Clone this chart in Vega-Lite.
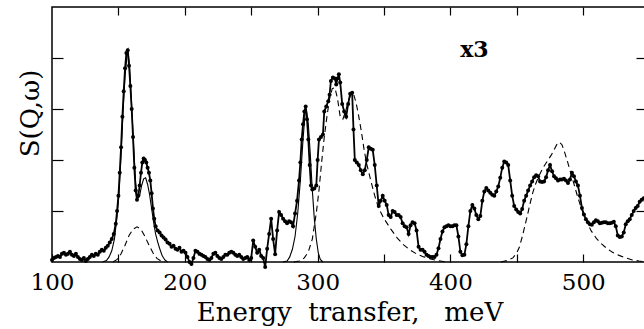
{
 "$schema": "https://vega.github.io/schema/vega-lite/v6.json",
 "autosize": {"type": "none"},
 "padding": {"left": 52, "top": 7, "right": 0, "bottom": 67},
 "width": 595,
 "height": 255,
 "config": {
  "view": {"stroke": "black", "strokeWidth": 1.5},
  "axis": {"domain": false, "tickColor": "black", "tickWidth": 1.2, "labelColor": "black", "titleColor": "black", "labelFont": "DejaVu Serif", "titleFont": "DejaVu Serif", "grid": false, "labelFlush": false}
 },
 "datasets": {
  "obs": [
   {"E":100,"S":0.04},{"E":101.5,"S":0.08},{"E":103,"S":0.1},{"E":104.5,"S":0.12},{"E":106,"S":0.1},{"E":107.5,"S":0.16},{"E":109,"S":0.18},{"E":110.5,"S":0.14},{"E":112,"S":0.16},{"E":113.5,"S":0.2},{"E":115,"S":0.14},{"E":116.5,"S":0.12},{"E":118,"S":0.16},{"E":119.5,"S":0.1},{"E":121,"S":0.06},{"E":122.5,"S":0.04},{"E":124,"S":0.08},{"E":125.5,"S":0.02},{"E":127,"S":0.06},{"E":128.5,"S":0.1},{"E":130,"S":0.14},{"E":131.5,"S":0.12},{"E":133,"S":0.16},{"E":134.5,"S":0.14},{"E":136,"S":0.2},{"E":137.5,"S":0.24},{"E":139,"S":0.22},{"E":140.5,"S":0.28},{"E":142,"S":0.32},{"E":143.5,"S":0.38},{"E":145,"S":0.45},{"E":146.5,"S":0.55},{"E":148,"S":0.75},{"E":149,"S":1.0},{"E":150,"S":1.3},{"E":151,"S":1.75},{"E":152,"S":2.25},{"E":153,"S":2.85},{"E":154,"S":3.35},{"E":155,"S":3.8},{"E":156,"S":4.1},{"E":157,"S":4.15},{"E":158,"S":3.85},{"E":159,"S":3.45},{"E":160,"S":3.0},{"E":161,"S":2.45},{"E":162,"S":1.85},{"E":163,"S":1.4},{"E":164,"S":1.22},{"E":165,"S":1.3},{"E":166,"S":1.5},{"E":167,"S":1.75},{"E":168,"S":1.95},{"E":169,"S":2.03},{"E":170,"S":2.0},{"E":171,"S":1.95},{"E":172,"S":1.85},{"E":173,"S":1.75},{"E":174,"S":1.6},{"E":175,"S":1.35},{"E":176,"S":1.05},{"E":177,"S":0.85},{"E":178,"S":0.7},{"E":179.5,"S":0.62},{"E":181,"S":0.58},{"E":182.5,"S":0.52},{"E":184,"S":0.48},{"E":185.5,"S":0.44},{"E":187,"S":0.38},{"E":188.5,"S":0.36},{"E":190,"S":0.3},{"E":191.5,"S":0.32},{"E":193,"S":0.26},{"E":194.5,"S":0.24},{"E":196,"S":0.28},{"E":197.5,"S":0.2},{"E":199,"S":0.22},{"E":200.5,"S":0.18},{"E":202,"S":0.1},{"E":203.5,"S":0.0},{"E":205,"S":-0.04},{"E":206.5,"S":0.08},{"E":208,"S":0.22},{"E":209.5,"S":0.2},{"E":211,"S":0.16},{"E":212.5,"S":0.14},{"E":214,"S":0.12},{"E":215.5,"S":0.1},{"E":217,"S":0.06},{"E":218.5,"S":0.04},{"E":220,"S":0.08},{"E":221.5,"S":0.16},{"E":223,"S":0.18},{"E":224.5,"S":0.12},{"E":226,"S":0.08},{"E":227.5,"S":0.06},{"E":229,"S":0.1},{"E":230.5,"S":0.14},{"E":232,"S":0.14},{"E":233.5,"S":0.18},{"E":235,"S":0.2},{"E":236.5,"S":0.18},{"E":238,"S":0.14},{"E":239.5,"S":0.12},{"E":241,"S":0.14},{"E":242.5,"S":0.1},{"E":244,"S":0.06},{"E":245.5,"S":0.08},{"E":247,"S":0.1},{"E":248.5,"S":0.04},{"E":250,"S":0.08},{"E":251.5,"S":0.42},{"E":253,"S":0.3},{"E":254.5,"S":0.18},{"E":256,"S":0.24},{"E":257.5,"S":0.12},{"E":259,"S":0.08},{"E":260.5,"S":-0.1},{"E":262,"S":0.26},{"E":263.5,"S":0.55},{"E":265,"S":0.85},{"E":266.5,"S":0.45},{"E":268,"S":0.15},{"E":269.5,"S":0.62},{"E":271,"S":0.98},{"E":272.5,"S":0.92},{"E":274,"S":0.85},{"E":275.5,"S":0.8},{"E":277,"S":0.76},{"E":278.5,"S":0.8},{"E":280,"S":0.78},{"E":281.5,"S":0.7},{"E":283,"S":0.95},{"E":284.5,"S":1.2},{"E":286,"S":1.6},{"E":287,"S":1.95},{"E":288,"S":2.4},{"E":289,"S":2.7},{"E":290,"S":2.95},{"E":291,"S":3.05},{"E":292,"S":2.8},{"E":293,"S":2.4},{"E":294,"S":1.9},{"E":295,"S":1.5},{"E":296,"S":1.42},{"E":297.5,"S":1.44},{"E":299,"S":1.5},{"E":300,"S":2.0},{"E":301,"S":2.4},{"E":302.5,"S":2.45},{"E":304,"S":2.5},{"E":305,"S":2.95},{"E":306.5,"S":3.05},{"E":308,"S":3.15},{"E":309,"S":3.28},{"E":310,"S":3.55},{"E":311.5,"S":3.62},{"E":313,"S":3.6},{"E":314,"S":3.48},{"E":315,"S":3.6},{"E":316,"S":3.68},{"E":317,"S":3.52},{"E":318.5,"S":3.1},{"E":320,"S":2.95},{"E":321.5,"S":2.85},{"E":323,"S":3.1},{"E":324.5,"S":3.3},{"E":326,"S":3.32},{"E":327,"S":2.6},{"E":328,"S":2.0},{"E":329.5,"S":1.95},{"E":331,"S":1.9},{"E":332.5,"S":1.8},{"E":334,"S":1.72},{"E":335.5,"S":1.8},{"E":337,"S":2.0},{"E":338.5,"S":2.25},{"E":340,"S":2.22},{"E":341.5,"S":2.2},{"E":343,"S":1.9},{"E":344.5,"S":1.5},{"E":346,"S":1.1},{"E":347.5,"S":1.2},{"E":349,"S":1.3},{"E":350.5,"S":1.2},{"E":352,"S":1.12},{"E":353.5,"S":0.92},{"E":355,"S":0.88},{"E":356.5,"S":1.0},{"E":358,"S":0.98},{"E":359.5,"S":0.92},{"E":361,"S":0.92},{"E":362.5,"S":0.88},{"E":364,"S":0.76},{"E":365.5,"S":0.7},{"E":367,"S":0.68},{"E":368.5,"S":0.55},{"E":370,"S":0.72},{"E":371.5,"S":0.78},{"E":373,"S":0.76},{"E":374.5,"S":0.62},{"E":376,"S":0.3},{"E":377.5,"S":0.24},{"E":379,"S":0.24},{"E":380.5,"S":0.2},{"E":382,"S":0.14},{"E":383.5,"S":0.12},{"E":385,"S":0.1},{"E":386.5,"S":0.1},{"E":388,"S":0.1},{"E":389.5,"S":0.14},{"E":391,"S":0.27},{"E":392.5,"S":0.45},{"E":394,"S":0.6},{"E":395.5,"S":0.68},{"E":397,"S":0.7},{"E":398.5,"S":0.72},{"E":400,"S":0.7},{"E":401.5,"S":0.7},{"E":403,"S":0.72},{"E":404.5,"S":0.72},{"E":406,"S":0.5},{"E":407.5,"S":0.2},{"E":409,"S":0.13},{"E":410.5,"S":0.14},{"E":412,"S":0.35},{"E":413.5,"S":0.7},{"E":415,"S":1.0},{"E":416.5,"S":1.12},{"E":418,"S":1.05},{"E":419.5,"S":0.92},{"E":421,"S":0.84},{"E":422.5,"S":0.9},{"E":424,"S":1.2},{"E":425.5,"S":1.38},{"E":427,"S":1.45},{"E":428.5,"S":1.4},{"E":430,"S":1.36},{"E":431.5,"S":1.32},{"E":433,"S":1.3},{"E":434.5,"S":1.38},{"E":436,"S":1.48},{"E":437.5,"S":1.65},{"E":439,"S":1.85},{"E":440.5,"S":1.97},{"E":442,"S":1.95},{"E":443.5,"S":1.9},{"E":445,"S":1.6},{"E":446.5,"S":1.3},{"E":448,"S":1.1},{"E":449.5,"S":1.03},{"E":451,"S":0.98},{"E":452.5,"S":0.95},{"E":454,"S":1.04},{"E":455.5,"S":1.2},{"E":457,"S":1.3},{"E":458.5,"S":1.4},{"E":460,"S":1.5},{"E":461.5,"S":1.58},{"E":463,"S":1.66},{"E":464.5,"S":1.7},{"E":466,"S":1.68},{"E":467.5,"S":1.58},{"E":469,"S":1.57},{"E":470.5,"S":1.58},{"E":472,"S":1.66},{"E":473.5,"S":1.8},{"E":475,"S":1.9},{"E":476.5,"S":1.78},{"E":478,"S":1.68},{"E":479.5,"S":1.64},{"E":481,"S":1.6},{"E":482.5,"S":1.62},{"E":484,"S":1.62},{"E":485.5,"S":1.63},{"E":487,"S":1.6},{"E":488.5,"S":1.55},{"E":490,"S":1.62},{"E":491.5,"S":1.75},{"E":493,"S":1.68},{"E":494.5,"S":1.58},{"E":496,"S":1.5},{"E":497.5,"S":1.3},{"E":499,"S":1.06},{"E":500.5,"S":0.93},{"E":502,"S":0.84},{"E":503.5,"S":0.78},{"E":505,"S":0.74},{"E":506.5,"S":0.73},{"E":508,"S":0.78},{"E":509.5,"S":0.82},{"E":511,"S":0.8},{"E":512.5,"S":0.76},{"E":514,"S":0.77},{"E":515.5,"S":0.78},{"E":517,"S":0.78},{"E":518.5,"S":0.76},{"E":520,"S":0.76},{"E":521.5,"S":0.77},{"E":523,"S":0.79},{"E":524.5,"S":0.7},{"E":526,"S":0.52},{"E":527.5,"S":0.49},{"E":529,"S":0.5},{"E":530.5,"S":0.58},{"E":532,"S":0.74},{"E":533.5,"S":0.8},{"E":535,"S":0.84},{"E":536.5,"S":0.92},{"E":538,"S":1.0},{"E":539.5,"S":1.06},{"E":541,"S":1.1},{"E":542.5,"S":1.18},{"E":544,"S":1.22},{"E":545.5,"S":1.25},{"E":547,"S":1.2}
  ],
  "fit": [
   {"seg":"a","E":138,"S":0},{"seg":"a","E":141,"S":0.03},{"seg":"a","E":143,"S":0.1},{"seg":"a","E":145,"S":0.22},{"seg":"a","E":147,"S":0.45},{"seg":"a","E":149,"S":0.9},{"seg":"a","E":150.5,"S":1.35},{"seg":"a","E":152,"S":2.1},{"seg":"a","E":153.5,"S":2.95},{"seg":"a","E":155,"S":3.65},{"seg":"a","E":156.5,"S":4.05},{"seg":"a","E":157.5,"S":4.08},{"seg":"a","E":158.5,"S":3.8},{"seg":"a","E":160,"S":3.05},{"seg":"a","E":161.5,"S":2.25},{"seg":"a","E":163,"S":1.55},{"seg":"a","E":164.5,"S":1.25},{"seg":"a","E":166,"S":1.3},{"seg":"a","E":167.5,"S":1.5},{"seg":"a","E":169,"S":1.63},{"seg":"a","E":170.5,"S":1.65},{"seg":"a","E":172,"S":1.52},{"seg":"a","E":173.5,"S":1.32},{"seg":"a","E":175,"S":1.05},{"seg":"a","E":176.5,"S":0.78},{"seg":"a","E":178,"S":0.55},{"seg":"a","E":179.5,"S":0.4},{"seg":"a","E":181,"S":0.27},{"seg":"a","E":183,"S":0.12},{"seg":"a","E":185,"S":0.04},{"seg":"a","E":187,"S":0},
   {"seg":"b","E":274,"S":0},{"seg":"b","E":277,"S":0.02},{"seg":"b","E":279,"S":0.1},{"seg":"b","E":281,"S":0.25},{"seg":"b","E":283,"S":0.5},{"seg":"b","E":285,"S":0.95},{"seg":"b","E":287,"S":1.6},{"seg":"b","E":289,"S":2.4},{"seg":"b","E":290.5,"S":2.9},{"seg":"b","E":291.5,"S":3.0},{"seg":"b","E":293,"S":2.7},{"seg":"b","E":294.5,"S":2.1},{"seg":"b","E":296,"S":1.41},{"seg":"b","E":297.5,"S":0.85},{"seg":"b","E":299,"S":0.45},{"seg":"b","E":300.5,"S":0.18},{"seg":"b","E":302,"S":0.05},{"seg":"b","E":304,"S":0}
  ],
  "model": [
   {"seg":"a","E":146,"S":0},{"seg":"a","E":149,"S":0.05},{"seg":"a","E":152,"S":0.16},{"seg":"a","E":155,"S":0.33},{"seg":"a","E":158,"S":0.52},{"seg":"a","E":161,"S":0.64},{"seg":"a","E":164,"S":0.69},{"seg":"a","E":167,"S":0.64},{"seg":"a","E":170,"S":0.5},{"seg":"a","E":173,"S":0.33},{"seg":"a","E":176,"S":0.18},{"seg":"a","E":179,"S":0.07},{"seg":"a","E":182,"S":0.02},{"seg":"a","E":185,"S":0},
   {"seg":"b","E":282,"S":0},{"seg":"b","E":286,"S":0.02},{"seg":"b","E":290,"S":0.08},{"seg":"b","E":293,"S":0.2},{"seg":"b","E":296,"S":0.45},{"seg":"b","E":299,"S":0.96},{"seg":"b","E":301,"S":1.4},{"seg":"b","E":303,"S":1.95},{"seg":"b","E":305,"S":2.45},{"seg":"b","E":307,"S":2.85},{"seg":"b","E":309,"S":3.2},{"seg":"b","E":311,"S":3.4},{"seg":"b","E":313,"S":3.42},{"seg":"b","E":315,"S":3.2},{"seg":"b","E":317,"S":2.85},{"seg":"b","E":319,"S":2.8},{"seg":"b","E":321,"S":2.95},{"seg":"b","E":323,"S":3.15},{"seg":"b","E":325,"S":3.28},{"seg":"b","E":327,"S":3.3},{"seg":"b","E":329,"S":3.12},{"seg":"b","E":331,"S":2.85},{"seg":"b","E":333,"S":2.55},{"seg":"b","E":335,"S":2.2},{"seg":"b","E":337,"S":1.92},{"seg":"b","E":340,"S":1.6},{"seg":"b","E":343,"S":1.3},{"seg":"b","E":346,"S":1.05},{"seg":"b","E":350,"S":0.85},{"seg":"b","E":355,"S":0.65},{"seg":"b","E":360,"S":0.47},{"seg":"b","E":365,"S":0.33},{"seg":"b","E":370,"S":0.23},{"seg":"b","E":375,"S":0.15},{"seg":"b","E":380,"S":0.1},{"seg":"b","E":385,"S":0.06},{"seg":"b","E":390,"S":0.03},{"seg":"b","E":397,"S":0},
   {"seg":"c","E":438,"S":0},{"seg":"c","E":443,"S":0.03},{"seg":"c","E":447,"S":0.08},{"seg":"c","E":450,"S":0.18},{"seg":"c","E":452,"S":0.3},{"seg":"c","E":454,"S":0.49},{"seg":"c","E":456,"S":0.7},{"seg":"c","E":458,"S":0.92},{"seg":"c","E":460,"S":1.15},{"seg":"c","E":462,"S":1.36},{"seg":"c","E":464,"S":1.52},{"seg":"c","E":466,"S":1.65},{"seg":"c","E":468,"S":1.76},{"seg":"c","E":470,"S":1.86},{"seg":"c","E":472,"S":1.94},{"seg":"c","E":474,"S":2.02},{"seg":"c","E":476,"S":2.1},{"seg":"c","E":478,"S":2.2},{"seg":"c","E":480,"S":2.3},{"seg":"c","E":482,"S":2.35},{"seg":"c","E":484,"S":2.3},{"seg":"c","E":486,"S":2.15},{"seg":"c","E":488,"S":1.98},{"seg":"c","E":490,"S":1.8},{"seg":"c","E":492,"S":1.62},{"seg":"c","E":494,"S":1.44},{"seg":"c","E":496,"S":1.26},{"seg":"c","E":498,"S":1.1},{"seg":"c","E":500,"S":0.95},{"seg":"c","E":503,"S":0.77},{"seg":"c","E":506,"S":0.61},{"seg":"c","E":510,"S":0.46},{"seg":"c","E":514,"S":0.35},{"seg":"c","E":518,"S":0.26},{"seg":"c","E":522,"S":0.19},{"seg":"c","E":527,"S":0.13},{"seg":"c","E":532,"S":0.08},{"seg":"c","E":537,"S":0.04},{"seg":"c","E":542,"S":0.02},{"seg":"c","E":548,"S":0}
  ],
  "notes": [{"label": "x3", "E": 418, "S": 4.15}]
 },
 "resolve": {"axis": {"x": "independent", "y": "independent"}},
 "layer": [
  {
   "data": {"name": "obs"},
   "mark": {"type": "line", "color": "black", "strokeWidth": 1.8},
   "encoding": {
    "x": {"field": "E", "type": "quantitative", "scale": {"domain": [100, 548], "nice": false, "zero": false},
          "axis": {"orient": "bottom", "values": [100,150,200,250,300,350,400,450,500], "labelExpr": "datum.value % 100 == 0 ? datum.label : ''", "tickSize": -8, "labelPadding": 35, "labelBaseline": "alphabetic", "labelFontSize": 23, "title": "Energy\u00a0\u00a0transfer,\u00a0\u00a0\u00a0meV", "titleFontSize": 26, "titleFontWeight": "normal", "titleBaseline": "alphabetic", "titleY": 58}},
    "y": {"field": "S", "type": "quantitative", "scale": {"domain": [0, 5], "nice": false},
          "axis": {"orient": "left", "values": [1,2,3,4], "labels": false, "tickSize": -11, "title": "S(Q,ω)", "titleFontSize": 26, "titleFontWeight": "normal", "titleBaseline": "alphabetic", "titleX": -14, "titleY": 106}}
   }
  },
  {
   "data": {"name": "obs"},
   "mark": {"type": "point", "filled": true, "color": "black", "size": 16, "opacity": 1},
   "encoding": {
    "x": {"field": "E", "type": "quantitative", "axis": {"orient": "top", "values": [150,200,250,300,350,400,450,500], "labels": false, "tickSize": -8, "title": null}},
    "y": {"field": "S", "type": "quantitative", "axis": {"orient": "right", "values": [1,2,3,4], "labels": false, "tickSize": -11, "title": null}}
   }
  },
  {
   "data": {"name": "fit"},
   "mark": {"type": "line", "color": "black", "strokeWidth": 1.1},
   "encoding": {
    "x": {"field": "E", "type": "quantitative", "axis": null},
    "y": {"field": "S", "type": "quantitative", "axis": null},
    "detail": {"field": "seg"}
   }
  },
  {
   "data": {"name": "model"},
   "mark": {"type": "line", "color": "black", "strokeWidth": 1.1, "strokeDash": [6, 4]},
   "encoding": {
    "x": {"field": "E", "type": "quantitative", "axis": null},
    "y": {"field": "S", "type": "quantitative", "axis": null},
    "detail": {"field": "seg"}
   }
  },
  {
   "mark": {"type": "rule", "color": "black", "strokeWidth": 1.2},
   "encoding": {"x": {"datum": 250, "type": "quantitative", "axis": null}}
  },
  {
   "data": {"name": "notes"},
   "mark": {"type": "text", "font": "DejaVu Serif", "fontSize": 22, "fontWeight": "bold", "color": "black"},
   "encoding": {
    "x": {"field": "E", "type": "quantitative", "axis": null},
    "y": {"field": "S", "type": "quantitative", "axis": null},
    "text": {"field": "label"}
   }
  }
 ]
}
